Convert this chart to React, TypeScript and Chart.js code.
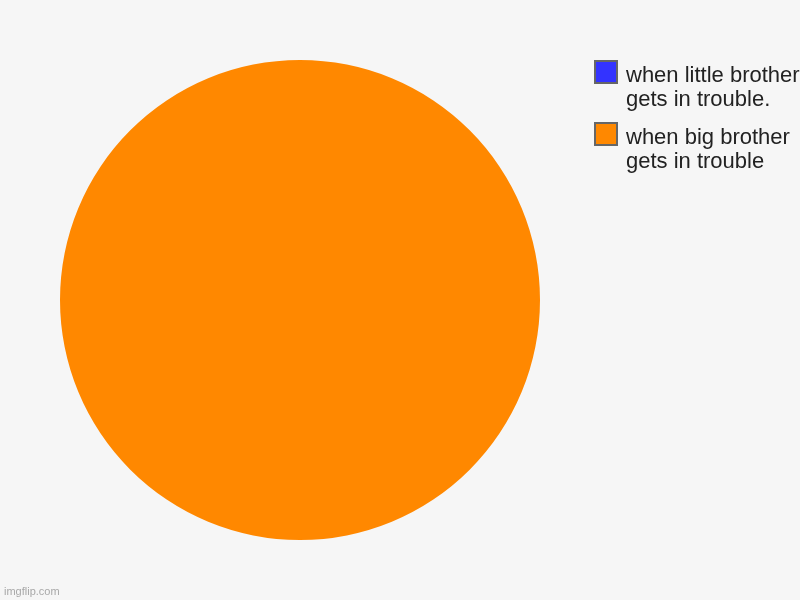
import { useEffect, useRef } from 'react';
import Chart, { ChartConfiguration } from 'chart.js/auto';

const labels = ['when little brother gets in trouble.', 'when big brother gets in trouble'];
const legendLines = [
  ['when little brother', 'gets in trouble.'],
  ['when big brother', 'gets in trouble'],
];
const values = [0, 100];
const colors = ['#3333ff', '#ff8800'];

const App = () => {
  const chartRef = useRef<HTMLCanvasElement>(null);
  const chartInstance = useRef<Chart | null>(null);

  useEffect(() => {
    if (chartInstance.current) {
      chartInstance.current.destroy();
    }

    const config: ChartConfiguration<'pie', number[], string> = {
      type: 'pie',
      data: {
        labels,
        datasets: [
          {
            data: values,
            backgroundColor: colors,
            borderWidth: 0,
          },
        ],
      },
      options: {
        responsive: false,
        animation: false,
        layout: {
          padding: { left: 60, right: 260, top: 60, bottom: 60 },
        },
        plugins: {
          legend: { display: false },
          tooltip: { enabled: false },
        },
      },
    };

    if (chartRef.current) {
      const ctx = chartRef.current.getContext('2d');
      if (ctx) {
        chartInstance.current = new Chart(ctx, config);
      }
    }

    return () => {
      if (chartInstance.current) {
        chartInstance.current.destroy();
      }
    };
  }, []);

  return (
    <div
      style={{
        position: 'absolute',
        left: 0,
        top: 0,
        width: 800,
        height: 600,
        overflow: 'hidden',
        background: '#f6f6f6',
        fontFamily: 'Arial, "Liberation Sans", sans-serif',
      }}
    >
      <canvas ref={chartRef} width={800} height={600} style={{ display: 'block' }}></canvas>
      {legendLines.map((lines, i) => (
        <div key={i} style={{ position: 'absolute', left: 594, top: 60 + i * 62 }}>
          <span
            style={{
              position: 'absolute',
              left: 0,
              top: 0,
              width: 20,
              height: 20,
              background: colors[i],
              border: '2px solid #666666',
            }}
          ></span>
          <div
            style={{
              position: 'absolute',
              left: 32,
              top: 3,
              fontSize: 22,
              lineHeight: '24px',
              color: '#222222',
              whiteSpace: 'nowrap',
            }}
          >
            {lines.map((l) => (
              <div key={l}>{l}</div>
            ))}
          </div>
        </div>
      ))}
      <div
        style={{
          position: 'absolute',
          left: 4,
          bottom: 3,
          fontSize: 11,
          color: '#a8a8a8',
        }}
      >
        imgflip.com
      </div>
    </div>
  );
};

export default App;
